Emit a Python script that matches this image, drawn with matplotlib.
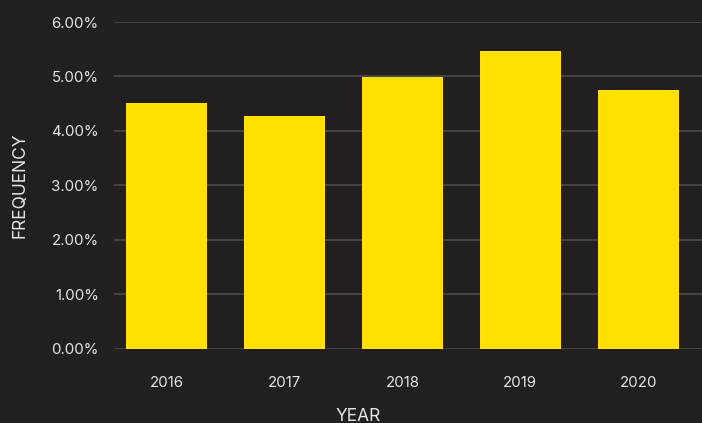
import matplotlib
matplotlib.use("Agg")
import matplotlib.pyplot as plt
from matplotlib.ticker import FuncFormatter

# Share of records per year
years = ["2016", "2017", "2018", "2019", "2020"]
frequency = [4.51, 4.27, 4.99, 5.47, 4.75]

bg = "#231f20"
bar_color = "#ffe000"
text_color = "#e6e6e6"
grid_color = "#4d4a4b"

plt.rcParams["font.family"] = ["Inter", "DejaVu Sans"]

fig = plt.figure(figsize=(7.02, 4.23), dpi=100, facecolor=bg)
ax = fig.add_axes([114 / 702, (423 - 348.7) / 423, 1 - 114 / 702, (348.7 - 22) / 423])
ax.set_facecolor(bg)

x = range(len(years))
ax.bar(x, frequency, width=0.69, color=bar_color, zorder=3)

ax.set_ylim(0, 6)
ax.set_xlim(-0.445, 4.54)
ax.set_yticks(range(0, 7))
ax.yaxis.set_major_formatter(FuncFormatter(lambda v, _: f"{v:.2f}%"))
ax.set_xticks(list(x))
ax.set_xticklabels(years)

ax.grid(axis="y", color=grid_color, linewidth=1.2, zorder=0)
ax.tick_params(axis="both", length=0, colors=text_color, labelsize=10.8)
ax.tick_params(axis="y", pad=11)
ax.tick_params(axis="x", pad=20)
for spine in ax.spines.values():
    spine.set_visible(False)

fig.text(358 / 702, 1 - 416 / 423, "YEAR", color=text_color, fontsize=12.5,
         ha="center", va="center")
fig.text(20 / 702, 1 - 185 / 423, "FREQUENCY", color=text_color, fontsize=12.5,
         ha="center", va="center", rotation=90)

fig.savefig("out.png", dpi=100, facecolor=bg)
